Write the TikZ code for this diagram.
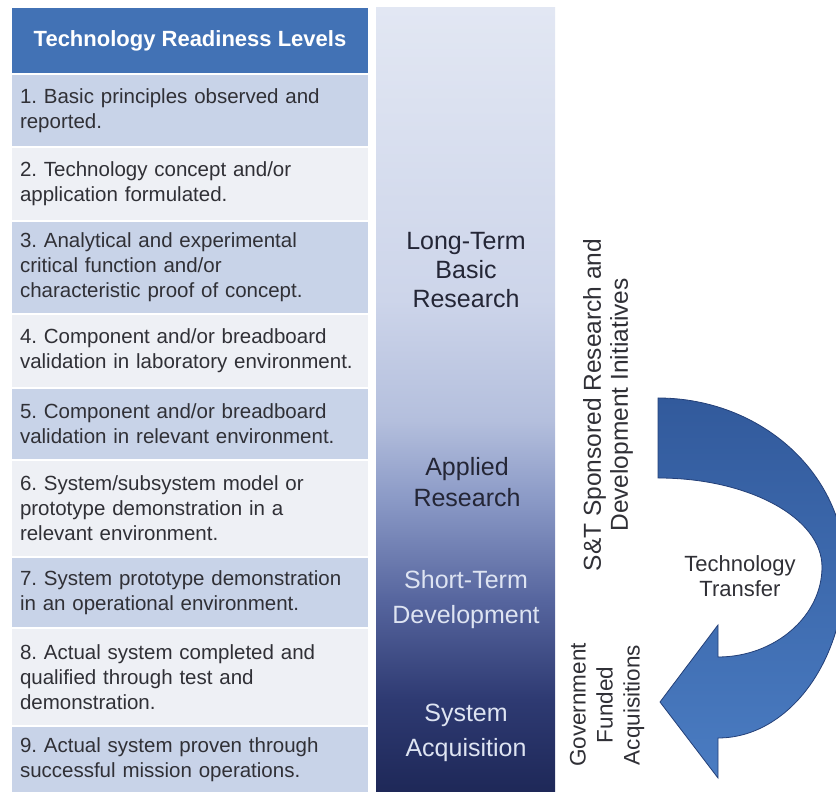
\documentclass[tikz,border=0pt]{standalone}
\usepackage{fontspec}
\setmainfont{Liberation Sans}
\usetikzlibrary{positioning}
\frenchspacing
\definecolor{hdrBlue}{RGB}{66,114,181}
\definecolor{rowBlue}{RGB}{200,211,232}
\definecolor{rowPale}{RGB}{238,240,245}
\definecolor{txtGray}{RGB}{48,48,54}
\definecolor{stgDark}{RGB}{36,38,54}
\definecolor{stgLight}{RGB}{222,228,242}
\definecolor{arrTop}{RGB}{50,90,156}
\definecolor{arrBot}{RGB}{74,124,194}
\definecolor{arrEdge}{RGB}{36,64,120}
\definecolor{bandA}{RGB}{226,231,243}
\definecolor{bandB}{RGB}{205,213,234}
\definecolor{bandC}{RGB}{180,191,221}
\definecolor{bandD}{RGB}{138,153,198}
\definecolor{bandE}{RGB}{86,101,158}
\definecolor{bandF}{RGB}{46,58,114}
\definecolor{bandG}{RGB}{30,40,88}
\pgfdeclareverticalshading{trlband}{100bp}{color(0bp)=(bandG); color(25bp)=(bandG);
  color(30.9bp)=(bandF); color(37.2bp)=(bandE); color(43.6bp)=(bandD);
  color(48.7bp)=(bandC); color(56.4bp)=(bandB); color(75bp)=(bandA); color(100bp)=(bandA)}

\begin{document}
\begin{tikzpicture}[x=1pt,y=1pt,
  hdr/.style={fill=hdrBlue,minimum width=356pt,minimum height=65pt,inner sep=0pt,
              text=white,font=\bfseries\fontsize{22}{26}\selectfont},
  lvl/.style={fill=#1,text width=340pt,inner xsep=8pt,inner ysep=0pt,align=left,
              text=txtGray,font=\fontsize{20.5}{25}\selectfont},
  band/.style={minimum width=179pt,minimum height=784pt,inner sep=0pt,shade,shading=trlband},
  stg/.style={align=center,inner sep=0pt,font=\fontsize{25}{#1}\selectfont},
  side/.style={align=center,inner sep=0pt,rotate=90,text=txtGray},
  arr/.style={draw=arrEdge,line width=0.8pt,top color=arrTop,bottom color=arrBot}]
\useasboundingbox (0,0) rectangle (836,792);
% ---- readiness levels table
\node[hdr] (head) at (190,751.5) {Technology Readiness Levels};
\node[lvl=rowBlue,minimum height=71pt] (l1) at (190,681.5) {1. Basic principles observed and\\reported.};
\node[lvl=rowPale,minimum height=72pt] (l2) at (190,608) {2. Technology concept and/or\\application formulated.};
\node[lvl=rowBlue,minimum height=91pt] (l3) at (190,524.5) {3. Analytical and experimental\\critical function and/or\\characteristic proof of concept.};
\node[lvl=rowPale,minimum height=72pt] (l4) at (190,441) {4. Component and/or breadboard\\validation in laboratory environment.};
\node[lvl=rowBlue,minimum height=70pt] (l5) at (190,368) {5. Component and/or breadboard\\validation in relevant environment.};
\node[lvl=rowPale,minimum height=95pt] (l6) at (190,283.5) {6. System/subsystem model or\\prototype demonstration in a\\relevant environment.};
\node[lvl=rowBlue,minimum height=69pt] (l7) at (190,199.5) {7. System prototype demonstration\\in an operational environment.};
\node[lvl=rowPale,minimum height=96pt] (l8) at (190,115) {8. Actual system completed and\\qualified through test and\\demonstration.};
\node[lvl=rowBlue,minimum height=65pt] (l9) at (190,32.5) {9. Actual system proven through\\successful mission operations.};
% ---- shaded stage band
\node[band] (band) at (465.5,392) {};
\node[stg=29,text=stgDark] (basic) at (466,522) {Long-Term\\Basic\\Research};
\node[stg=31,text=stgDark] (applied) at (467,310) {Applied\\Research};
\node[stg=35,text=stgLight] (short) at (466,192) {Short-Term\\Development};
\node[stg=35,text=stgLight] (acq) at (466,59) {System\\Acquisition};
% ---- side labels
\node[side,font=\fontsize{24.5}{27}\selectfont] (snt) at (608,387) {S\&T Sponsored Research and\\Development Initiatives};
\node[side,font=\fontsize{22.5}{27}\selectfont] (gov) at (607,87) {Government\\Funded\\Acquisitions};
\node[align=center,inner sep=0pt,text=txtGray,font=\fontsize{22}{25}\selectfont] (xfer) at (740,216) {Technology\\Transfer};
% ---- curved transfer arrow
\draw[arr] (658,394) .. controls (761,394) and (845,318) .. (845,224)
  .. controls (845,130) and (788,54) .. (718,54) -- (718,14) -- (660,90) -- (718,167) -- (718,135)
  .. controls (775,135) and (822,176) .. (822,225)
  .. controls (822,274) and (749,314) .. (658,314) -- cycle;
\end{tikzpicture}
\end{document}
